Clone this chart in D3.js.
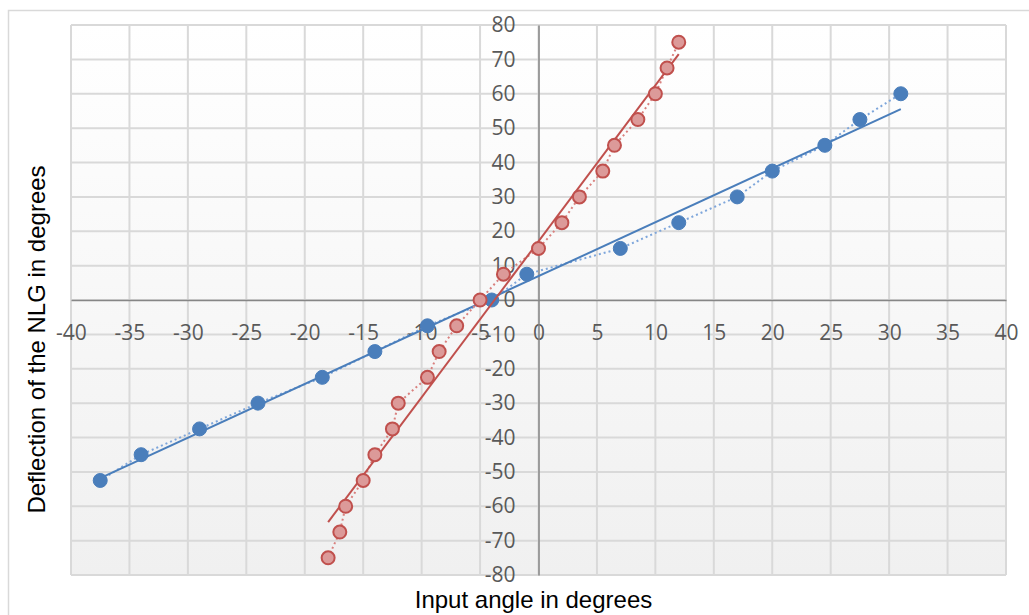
<!DOCTYPE html>
<html>
<head>
<meta charset="utf-8">
<script src="https://cdn.jsdelivr.net/npm/d3@7"></script>
<style>
  body { margin: 0; background: #fff; }
  svg { display: block; }
</style>
</head>
<body>
<svg id="chart" width="1029" height="615"></svg>
<script>
// ---------------------------------------------------------------
//    DATA
// ---------------------------------------------------------------
const blueX = [-37.5, -34, -29, -24, -18.5, -14, -9.5, -4, -1, 7, 12, 17, 20, 24.5, 27.5, 31];
const blueY = [-52.5, -45, -37.5, -30, -22.5, -15, -7.5, 0, 7.5, 15, 22.5, 30, 37.5, 45, 52.5, 60];

const redX = [-18, -17, -16.5, -15, -14, -12.5, -12, -9.5, -8.5, -7, -5, -3, 0, 2, 3.5, 5.5, 6.5, 8.5, 10, 11, 12];
const redY = [-75, -67.5, -60, -52.5, -45, -37.5, -30, -22.5, -15, -7.5, 0, 7.5, 15, 22.5, 30, 37.5, 45, 52.5, 60, 67.5, 75];

const xTicks = d3.range(-40, 41, 5);
const yTicks = d3.range(-80, 81, 10);

const xTitle = "Input angle in degrees";
const yTitle = "Deflection of the NLG in degrees";

// ---------------------------------------------------------------
//    LAYOUT
// ---------------------------------------------------------------
const svg = d3.select("#chart");
const plot = { left: 71, right: 1006, top: 25, bottom: 575 };

const x = d3.scaleLinear().domain([-40, 40]).range([plot.left, plot.right]);
const y = d3.scaleLinear().domain([-80, 80]).range([plot.bottom, plot.top]);

// outer chart frame (only left and top edges are visible)
svg.append("path")
    .attr("d", "M8.5,615 V10.5 H1029")
    .attr("fill", "none")
    .attr("stroke", "#d9d9d9")
    .attr("stroke-width", 1.5);

// plot background gradient
const grad = svg.append("defs").append("linearGradient")
    .attr("id", "bg").attr("x1", 0).attr("y1", 0).attr("x2", 0).attr("y2", 1);
grad.append("stop").attr("offset", "0%").attr("stop-color", "#ffffff");
grad.append("stop").attr("offset", "100%").attr("stop-color", "#f0f0f0");

svg.append("rect")
    .attr("x", plot.left).attr("y", plot.top)
    .attr("width", plot.right - plot.left).attr("height", plot.bottom - plot.top)
    .attr("fill", "url(#bg)");

// gridlines
const grid = svg.append("g").attr("stroke", "#d9d9d9").attr("stroke-width", 2);
grid.selectAll(".vx").data(xTicks).join("line")
    .attr("x1", d => x(d)).attr("x2", d => x(d))
    .attr("y1", plot.top).attr("y2", plot.bottom);
grid.selectAll(".hy").data(yTicks).join("line")
    .attr("x1", plot.left).attr("x2", plot.right)
    .attr("y1", d => y(d)).attr("y2", d => y(d));

// axes through the origin, plain hyphen for negatives like Excel
const fmt = d => String(d);
const xAxis = d3.axisBottom(x).tickValues(xTicks).tickFormat(fmt).tickSize(0).tickPadding(25);
const yAxis = d3.axisLeft(y).tickValues(yTicks).tickFormat(fmt).tickSize(0).tickPadding(23);

function styleAxis(g) {
    g.select(".domain").attr("stroke", "#868686").attr("stroke-width", 1.5);
    g.selectAll("text")
        .attr("fill", "#595959")
        .style("font-family", "'Open Sans', 'Noto Sans', sans-serif")
        .style("font-size", "21px");
}

svg.append("g")
    .attr("transform", `translate(0,${y(0)})`)
    .call(xAxis)
    .call(styleAxis);

svg.append("g")
    .attr("transform", `translate(${x(0)},0)`)
    .call(yAxis)
    .call(styleAxis);

// ---------------------------------------------------------------
//    SERIES
// ---------------------------------------------------------------
function fitLine(xs, ys) {
    const mx = d3.mean(xs), my = d3.mean(ys);
    let sxy = 0, sxx = 0;
    xs.forEach((v, i) => { sxy += (v - mx) * (ys[i] - my); sxx += (v - mx) * (v - mx); });
    const slope = sxy / sxx;
    const x0 = d3.min(xs), x1 = d3.max(xs);
    return [[x0, my + slope * (x0 - mx)], [x1, my + slope * (x1 - mx)]];
}

const line = d3.line().x(d => x(d[0])).y(d => y(d[1]));

function drawSeries(xs, ys, opts) {
    const pts = xs.map((v, i) => [v, ys[i]]);
    const g = svg.append("g");

    // dotted connector
    g.append("path")
        .datum(pts)
        .attr("d", line)
        .attr("fill", "none")
        .attr("stroke", opts.dotColor)
        .attr("stroke-width", 2)
        .attr("stroke-dasharray", "2,3");

    // linear trendline
    g.append("path")
        .datum(fitLine(xs, ys))
        .attr("d", line)
        .attr("fill", "none")
        .attr("stroke", opts.trendColor)
        .attr("stroke-width", 2);

    // markers
    g.selectAll("circle").data(pts).join("circle")
        .attr("cx", d => x(d[0]))
        .attr("cy", d => y(d[1]))
        .attr("r", opts.r)
        .attr("fill", opts.fill)
        .attr("stroke", opts.stroke)
        .attr("stroke-width", opts.strokeWidth);
}

drawSeries(blueX, blueY, {
    dotColor: "#7ea6db", trendColor: "#4a7ebb",
    fill: "#4a7ebb", stroke: "#4a7ebb", strokeWidth: 1, r: 7
});

drawSeries(redX, redY, {
    dotColor: "#d9807e", trendColor: "#c0504d",
    fill: "#dc9a99", stroke: "#c0504d", strokeWidth: 2, r: 6.5
});

// ---------------------------------------------------------------
//    TITLES
// ---------------------------------------------------------------
svg.append("text")
    .attr("x", 533.5)
    .attr("y", 608)
    .attr("text-anchor", "middle")
    .style("font-family", "'Liberation Sans', Arial, sans-serif")
    .style("font-size", "24px")
    .attr("fill", "#000")
    .text(xTitle);

svg.append("text")
    .attr("transform", "translate(45,339.5) rotate(-90)")
    .attr("text-anchor", "middle")
    .style("font-family", "'Liberation Sans', Arial, sans-serif")
    .style("font-size", "24px")
    .attr("fill", "#000")
    .text(yTitle);
</script>
</body>
</html>
